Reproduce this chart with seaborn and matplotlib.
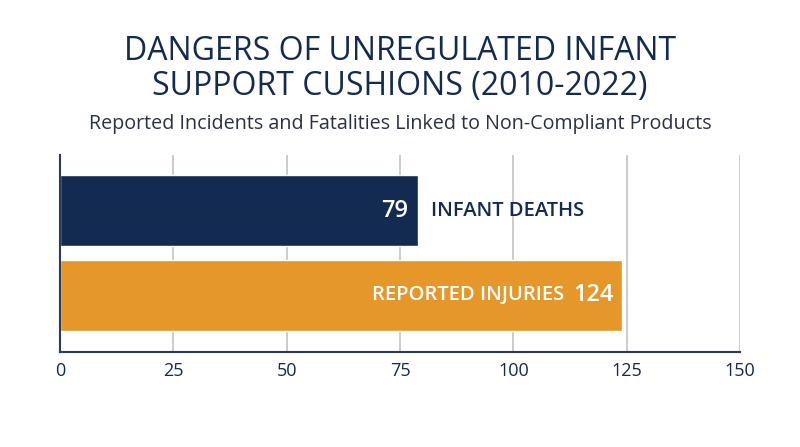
import pandas as pd
import matplotlib.pyplot as plt
import seaborn as sns

# données du graphique
categories = ["INFANT DEATHS", "REPORTED INJURIES"]
valeurs = [79, 124]
couleurs = ["#142b51", "#e6972a"]
ticks = [0, 25, 50, 75, 100, 125, 150]

df = pd.DataFrame({"categorie": categories, "valeur": valeurs})

sns.set_style("white")
plt.rcParams["font.family"] = ["Open Sans", "DejaVu Sans"]

navy = "#142b51"

fig = plt.figure(figsize=(8, 4.47), dpi=100)
ax = fig.add_axes([0.075, 0.2125, 0.85, 0.4407])

sns.barplot(data=df, x="valeur", y="categorie", hue="categorie",
            palette=couleurs, orient="h", width=0.835, legend=False,
            saturation=1, ax=ax)

ax.set_xlim(0, 150)
ax.set_ylim(1.665, -0.653)
ax.set_xticks(ticks)
ax.set_xticklabels([str(t) for t in ticks], fontsize=13, color=navy)
ax.set_yticks([])
ax.set_xlabel("")
ax.set_ylabel("")
ax.tick_params(axis="x", length=0, pad=7)

# grille verticale
for t in ticks[1:]:
    ax.axvline(t, color="#c8c8c8", lw=1.3, zorder=0)

for s in ["top", "right"]:
    ax.spines[s].set_visible(False)
for s in ["left", "bottom"]:
    ax.spines[s].set_color("#2c3a58")
    ax.spines[s].set_linewidth(1.5)

# étiquettes des barres
ax.annotate(str(valeurs[0]), (valeurs[0], 0), xytext=(-7, 0), textcoords="offset points",
            ha="right", va="center", color="white", fontsize=17, fontweight="semibold")
ax.annotate(categories[0], (valeurs[0], 0), xytext=(9, 0), textcoords="offset points",
            ha="left", va="center", color=navy, fontsize=14.5, fontweight="semibold")
ax.annotate(str(valeurs[1]), (valeurs[1], 1), xytext=(-6, 0), textcoords="offset points",
            ha="right", va="center", color="white", fontsize=17, fontweight="semibold")
ax.annotate(categories[1], (valeurs[1], 1), xytext=(-42, 0), textcoords="offset points",
            ha="right", va="center", color="white", fontsize=14.5, fontweight="semibold")

# titres
fig.text(0.5, 0.846, "DANGERS OF UNREGULATED INFANT\nSUPPORT CUSHIONS (2010-2022)",
         ha="center", va="center", fontsize=23, color=navy, linespacing=1.1)
fig.text(0.5, 0.722, "Reported Incidents and Fatalities Linked to Non-Compliant Products",
         ha="center", va="center", fontsize=14.2, color="#2a3140")

plt.savefig("out.png", dpi=100)
